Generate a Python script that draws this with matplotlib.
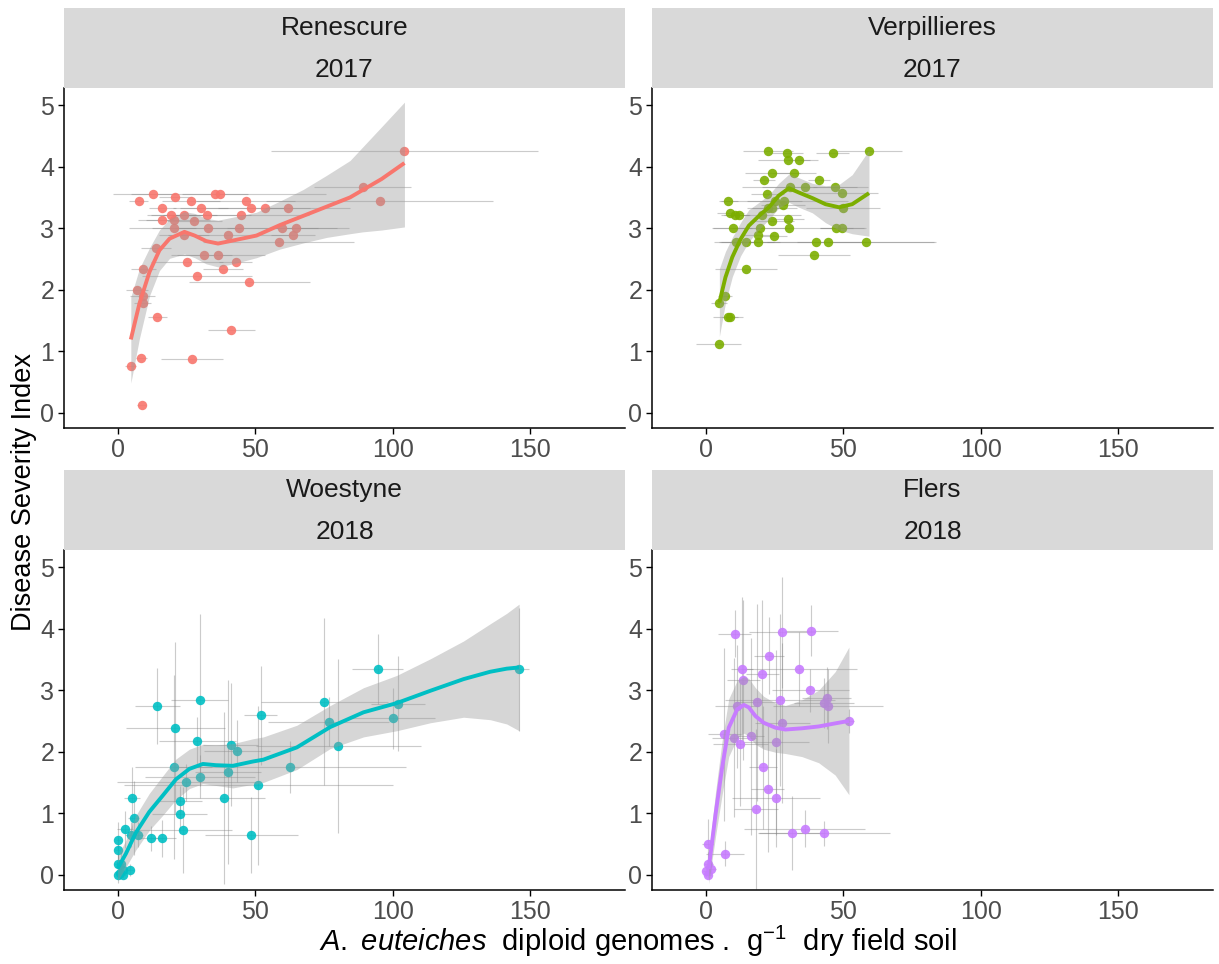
import matplotlib

matplotlib.use("Agg")
import matplotlib.pyplot as plt

plt.rcParams["font.family"] = ["Liberation Sans", "DejaVu Sans"]
plt.rcParams["mathtext.fontset"] = "custom"
plt.rcParams["mathtext.rm"] = "Liberation Sans"
plt.rcParams["mathtext.it"] = "Liberation Sans:italic"

sites = ["Renescure", "Verpillieres", "Woestyne", "Flers"]
years = ["2017", "2017", "2018", "2018"]
colors = ["#F8766D", "#7CAE00", "#00BFC4", "#C77CFF"]
x_ticks = [0, 50, 100, 150]
y_ticks = [0, 1, 2, 3, 4, 5]

# Renescure 2017 (only horizontal error bars)
ren_x = [104.3, 89.1, 95.3, 7.7, 12.7, 21.0, 26.7, 35.5, 37.1, 16.3, 30.2, 46.5, 48.5, 53.5, 62.1,
         19.5, 24.0, 32.6, 44.7, 16.2, 20.5, 27.8, 20.5, 33.0, 44.3, 59.8, 65.0, 24.2, 40.2, 63.7,
         58.5, 14.0, 31.5, 36.5, 25.3, 42.9, 9.3, 38.4, 28.7, 47.8, 7.0, 9.1, 9.1, 14.4, 41.3,
         8.6, 27.1, 4.8, 8.7]
ren_y = [4.25, 3.67, 3.45, 3.45, 3.56, 3.50, 3.45, 3.56, 3.56, 3.33, 3.33, 3.45, 3.33, 3.33, 3.33,
         3.22, 3.22, 3.22, 3.22, 3.13, 3.13, 3.12, 3.00, 3.00, 3.00, 3.00, 3.00, 2.89, 2.89, 2.89,
         2.78, 2.67, 2.56, 2.56, 2.45, 2.45, 2.33, 2.33, 2.22, 2.12, 2.00, 1.89, 1.79, 1.56, 1.34,
         0.89, 0.87, 0.76, 0.12]
ren_xerr = [48.5, 17.7, 41.3, 3.5, 8.0, 6.0, 10.5, 12.0, 38.7, 5.0, 10.0, 18.0, 12.0, 31.0, 8.0,
            9.0, 12.0, 16.0, 25.0, 6.0, 13.0, 10.0, 8.0, 12.0, 40.0, 20.0, 8.0, 9.0, 22.0, 8.0,
            27.5, 5.5, 10.0, 17.2, 13.0, 6.0, 4.5, 7.3, 20.0, 22.0, 4.0, 4.6, 3.0, 3.4, 8.6,
            2.0, 11.2, 2.0, 1.7]
ren_fit_x = [4.8, 7.9, 11.6, 15.2, 18.9, 24.3, 28.0, 32.2, 36.5, 42.0, 50.5, 59.0, 67.5, 76.0,
             84.5, 89.1, 96.0, 104.3]
ren_fit_y = [1.19, 1.77, 2.29, 2.64, 2.83, 2.94, 2.88, 2.79, 2.75, 2.80, 2.88, 3.05, 3.20, 3.35,
             3.50, 3.62, 3.80, 4.06]
ren_fit_lo = [0.48, 1.20, 1.90, 2.31, 2.51, 2.58, 2.52, 2.42, 2.37, 2.42, 2.52, 2.66, 2.76, 2.85,
              2.91, 2.94, 2.97, 3.02]
ren_fit_hi = [1.88, 2.34, 2.68, 2.97, 3.15, 3.27, 3.24, 3.16, 3.13, 3.18, 3.26, 3.44, 3.63, 3.86,
              4.10, 4.32, 4.65, 5.05]

# Verpillieres 2017 (only horizontal error bars)
ver_x = [22.6, 29.5, 29.9, 33.9, 46.2, 59.4, 24.2, 32.0, 21.2, 41.3, 30.6, 36.2, 47.0, 22.4, 49.5,
         8.3, 25.1, 28.6, 28.2, 22.8, 24.1, 50.0, 9.0, 10.7, 12.0, 20.5, 24.2, 29.8, 9.8, 19.7,
         30.3, 47.5, 49.6, 18.9, 24.7, 11.2, 14.8, 18.9, 40.3, 44.6, 58.2, 39.4, 14.7, 7.0, 4.9,
         8.1, 8.9, 4.8]
ver_y = [4.25, 4.23, 4.11, 4.11, 4.23, 4.25, 3.89, 3.89, 3.78, 3.78, 3.67, 3.67, 3.67, 3.56, 3.57,
         3.45, 3.45, 3.45, 3.37, 3.33, 3.33, 3.33, 3.25, 3.22, 3.22, 3.22, 3.12, 3.15, 3.00, 3.00,
         3.00, 3.00, 3.00, 2.89, 2.88, 2.78, 2.78, 2.78, 2.78, 2.78, 2.78, 2.56, 2.33, 1.89, 1.79,
         1.56, 1.56, 1.11]
ver_xerr = [9, 6, 11, 4, 6, 12, 10, 8, 4, 4, 10, 23, 8, 6, 13,
            3.5, 10, 23, 8, 6, 9, 13.4, 5, 5, 4, 14, 8, 6, 7, 10,
            28, 6, 8, 6, 5, 8, 10, 8, 18, 39, 25, 13.1, 11.4, 2.5, 3,
            5.5, 3, 8.2]
ver_fit_x = [5.0, 7.2, 9.7, 12.7, 15.7, 19.4, 23.0, 26.6, 30.3, 33.9, 38.8, 43.6, 48.5, 53.3, 59.4]
ver_fit_y = [1.79, 2.20, 2.53, 2.82, 3.04, 3.20, 3.34, 3.53, 3.65, 3.58, 3.49, 3.39, 3.34, 3.39, 3.57]
ver_fit_lo = [1.24, 1.78, 2.21, 2.55, 2.78, 2.98, 3.14, 3.33, 3.42, 3.34, 3.25, 3.09, 2.97, 2.91, 2.87]
ver_fit_hi = [2.34, 2.62, 2.85, 3.09, 3.30, 3.42, 3.54, 3.73, 3.88, 3.82, 3.73, 3.69, 3.71, 3.87, 4.27]

# Woestyne 2018
woe_x = [146.0, 94.5, 14.4, 29.8, 52.0, 75.2, 76.8, 101.9, 100.3, 20.9, 28.9, 41.2, 43.3, 80.2,
         20.4, 62.7, 40.2, 29.8, 24.8, 51.2, 38.5, 5.2, 22.6, 22.5, 5.8, 23.7, 2.6, 12.2, 16.2,
         48.6, 4.8, 7.4, 0.3, 0.0, 0.3, 1.3, 2.0, 4.6, 0.0, 2.0, 1.0]
woe_y = [3.34, 3.34, 2.74, 2.84, 2.59, 2.81, 2.49, 2.78, 2.54, 2.38, 2.17, 2.11, 2.01, 2.09,
         1.75, 1.75, 1.67, 1.59, 1.50, 1.45, 1.25, 1.25, 1.19, 0.98, 0.92, 0.72, 0.74, 0.59, 0.59,
         0.65, 0.65, 0.65, 0.56, 0.40, 0.17, 0.17, 0.07, 0.07, 0.00, 0.00, 0.03]
woe_xerr = [3.6, 9.3, 8.1, 10.5, 6.0, 23.0, 22.0, 9.8, 15.0, 18.0, 14.0, 10.0, 12.0, 30.0,
            14.0, 42.0, 12.0, 20.0, 25.0, 49.0, 15.0, 3.0, 8.0, 10.0, 2.0, 18.0, 3.0, 5.0, 5.0,
            17.0, 2.0, 2.0, 1.0, 1.0, 1.5, 1.0, 2.0, 1.5, 0.5, 1.0, 1.0]
woe_yerr = [1.0, 0.57, 0.62, 1.4, 0.8, 1.36, 0.4, 0.77, 0.5, 1.4, 0.4, 1.0, 0.5, 1.42,
            1.5, 0.43, 1.5, 0.35, 0.3, 1.3, 1.4, 0.5, 0.25, 0.3, 0.6, 0.7, 0.3, 0.2, 0.3,
            0.62, 0.2, 0.2, 0.3, 0.2, 0.3, 0.2, 0.1, 0.1, 0.05, 0.05, 0.1]
woe_fit_x = [0.0, 3.0, 6.6, 11.5, 16.3, 21.2, 26.1, 31.0, 35.8, 41.9, 49.2, 53.0, 65.2, 77.3,
             89.4, 101.5, 113.7, 125.8, 135.5, 141.5, 146.0]
woe_fit_y = [0.10, 0.34, 0.68, 1.02, 1.28, 1.55, 1.72, 1.80, 1.78, 1.77, 1.84, 1.87, 2.07, 2.40,
             2.64, 2.79, 2.99, 3.18, 3.30, 3.35, 3.37]
woe_fit_lo = [-0.10, 0.12, 0.40, 0.72, 0.96, 1.22, 1.40, 1.48, 1.45, 1.41, 1.47, 1.50, 1.71, 2.05,
              2.24, 2.34, 2.47, 2.56, 2.52, 2.45, 2.34]
woe_fit_hi = [0.30, 0.56, 0.96, 1.32, 1.60, 1.88, 2.04, 2.12, 2.11, 2.13, 2.21, 2.24, 2.43, 2.75,
              3.04, 3.24, 3.51, 3.80, 4.08, 4.25, 4.40]

# Flers 2018
fle_x = [10.6, 27.9, 38.4, 23.0, 13.4, 34.0, 20.5, 13.6, 38.1, 27.2, 18.5, 44.0, 43.0, 44.6,
         11.5, 27.9, 52.1, 6.7, 10.2, 16.4, 25.5, 12.6, 20.9, 22.6, 25.5, 18.4, 36.1, 31.5,
         43.1, 0.7, 7.1, 1.0, 2.1, 0.0, 1.0]
fle_y = [3.92, 3.94, 3.97, 3.56, 3.34, 3.34, 3.27, 3.16, 3.00, 2.84, 2.80, 2.87, 2.79, 2.74,
         2.74, 2.46, 2.50, 2.28, 2.23, 2.25, 2.15, 2.12, 1.75, 1.40, 1.25, 1.07, 0.75, 0.68,
         0.67, 0.50, 0.34, 0.17, 0.09, 0.06, 0.00]
fle_xerr = [6, 12, 9.7, 5.5, 4, 21, 6, 6, 14, 20, 8, 9, 11, 20,
            8, 10, 2, 6, 8, 5, 12, 10, 5, 6, 16, 8, 22, 12,
            24, 2, 7, 1.5, 1.5, 1, 1]
fle_yerr = [0.38, 0.9, 0.41, 0.63, 1.17, 0.6, 1.2, 1.3, 0.35, 1.4, 1.6, 0.5, 0.4, 0.6,
            1.0, 1.3, 0.2, 1.4, 1.3, 1.6, 1.5, 1.0, 1.0, 1.04, 0.8, 1.3, 0.3, 0.6,
            0.2, 0.4, 0.2, 0.2, 0.1, 0.1, 0.05]
fle_fit_x = [1.1, 3.6, 6.0, 8.4, 11.5, 13.9, 15.7, 18.1, 21.1, 25.4, 29.0, 35.0, 41.1, 47.1, 52.1]
fle_fit_y = [0.09, 0.98, 1.74, 2.39, 2.69, 2.76, 2.72, 2.58, 2.47, 2.39, 2.36, 2.38, 2.41, 2.46, 2.50]
fle_fit_lo = [-0.15, 0.62, 1.30, 1.92, 2.22, 2.30, 2.25, 2.12, 2.04, 1.99, 1.97, 1.92, 1.82, 1.62, 1.30]
fle_fit_hi = [0.33, 1.34, 2.18, 2.86, 3.16, 3.22, 3.19, 3.04, 2.90, 2.79, 2.75, 2.84, 3.00, 3.30, 3.70]

panels = [
    (ren_x, ren_y, ren_xerr, None, ren_fit_x, ren_fit_y, ren_fit_lo, ren_fit_hi),
    (ver_x, ver_y, ver_xerr, None, ver_fit_x, ver_fit_y, ver_fit_lo, ver_fit_hi),
    (woe_x, woe_y, woe_xerr, woe_yerr, woe_fit_x, woe_fit_y, woe_fit_lo, woe_fit_hi),
    (fle_x, fle_y, fle_xerr, fle_yerr, fle_fit_x, fle_fit_y, fle_fit_lo, fle_fit_hi),
]

W, H = 1219, 964
fig = plt.figure(figsize=(W / 100, H / 100), dpi=100)

# panel boxes in pixels: (left, right) and (strip top, plot top, plot bottom)
cols = [(64, 625), (652, 1213)]
rows = [(8, 88, 428), (470, 550, 890)]

for i, (x, y, xerr, yerr, fx, fy, flo, fhi) in enumerate(panels):
    l, r = cols[i % 2]
    st, pt, pb = rows[i // 2]
    ax = fig.add_axes([l / W, 1 - pb / H, (r - l) / W, (pb - pt) / H])
    sax = fig.add_axes([l / W, 1 - pt / H, (r - l) / W, (pt - st) / H])

    ax.errorbar(x, y, xerr=xerr, yerr=yerr, fmt="none", ecolor="#7f7f7f",
                elinewidth=0.8, alpha=0.4, capsize=0, zorder=1)
    ax.scatter(x, y, s=46, color=colors[i], alpha=0.9, linewidths=0, zorder=2)
    ax.fill_between(fx, flo, fhi, color="#999999", alpha=0.4, linewidth=0, zorder=3)
    ax.plot(fx, fy, color=colors[i], lw=2.8, solid_capstyle="butt", zorder=4)

    ax.set_xlim(-19.5, 184.5)
    ax.set_ylim(-0.25, 5.28)
    ax.set_xticks(x_ticks)
    ax.set_yticks(y_ticks)
    for side in ("top", "right"):
        ax.spines[side].set_visible(False)
    for side in ("left", "bottom"):
        ax.spines[side].set_linewidth(1.1)
        ax.spines[side].set_color("black")
    ax.tick_params(direction="out", length=4, width=1, color="black",
                   labelsize=18, labelcolor="#4d4d4d", pad=3)

    sax.set_facecolor("#d9d9d9")
    sax.set_xticks([])
    sax.set_yticks([])
    for s in sax.spines.values():
        s.set_visible(False)
    sax.text(0.5, 0.75, sites[i], ha="center", va="center", fontsize=19,
             color="#1a1a1a", transform=sax.transAxes)
    sax.text(0.5, 0.225, years[i], ha="center", va="center", fontsize=19,
             color="#1a1a1a", transform=sax.transAxes)

fig.text(24 / W, 0.49, "Disease Severity Index", rotation=90, ha="center", va="center",
         fontsize=19.5, color="black")
fig.text(0.523, 1 - 941 / H,
         r"$\mathit{A.\ euteiches}$  diploid genomes .  g$^{-1}$  dry field soil",
         ha="center", va="center", fontsize=21, color="black")

fig.savefig("out.png", dpi=100)
